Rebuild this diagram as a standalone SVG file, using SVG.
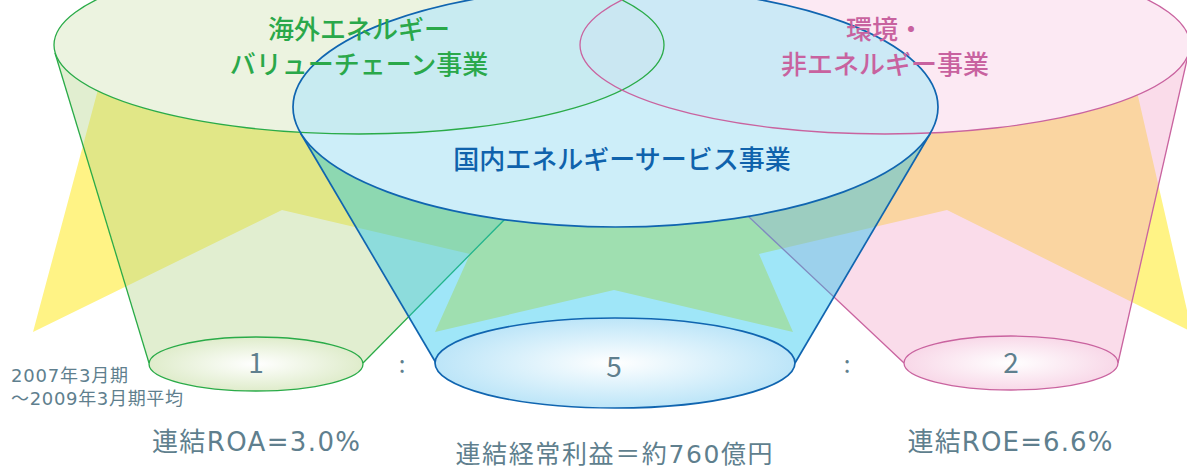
<svg xmlns="http://www.w3.org/2000/svg" width="1187" height="467" viewBox="0 0 1187 467">
<style>
text{font-family:"Noto Sans CJK JP","Noto Sans",sans-serif}
.ttl{font-size:26px;font-weight:500;text-anchor:middle}
.g{fill:#2aa84a}.p{fill:#c8629f}.b{fill:#0f62ac}
.gray{fill:#5f7f8e}
.lat{font-family:"DejaVu Sans","Noto Sans CJK JP",sans-serif}
.num{font-size:28px;text-anchor:middle}
.cap{font-size:26px;text-anchor:middle}
.note{font-size:18px}
.gl{stroke:#2aab48;stroke-width:1.3;fill:none}
.pl{stroke:#c9639f;stroke-width:1.3;fill:none}
.bl{stroke:#1065b0;stroke-width:1.7;fill:none}
</style>
<defs>
<radialGradient id="gg" cx="0.5" cy="0.5" r="0.5"><stop offset="0" stop-color="#ffffff"/><stop offset="1" stop-color="#dfeccb"/></radialGradient>
<radialGradient id="gb" cx="0.5" cy="0.5" r="0.5"><stop offset="0" stop-color="#ffffff"/><stop offset="1" stop-color="#bce5f8"/></radialGradient>
<radialGradient id="gp" cx="0.5" cy="0.5" r="0.5"><stop offset="0" stop-color="#ffffff"/><stop offset="1" stop-color="#f8d8e8"/></radialGradient>
<mask id="mp" maskUnits="userSpaceOnUse" x="-100" y="-300" width="1400" height="800">
<ellipse cx="885" cy="45" rx="305" ry="89" fill="#fff"/>
<ellipse cx="359" cy="45" rx="305" ry="89" fill="#000"/>
</mask>
<mask id="mb" maskUnits="userSpaceOnUse" x="-100" y="-300" width="1400" height="800">
<ellipse cx="615.5" cy="107" rx="322.5" ry="120" fill="#fff"/>
<ellipse cx="359" cy="45" rx="305" ry="89" fill="#000"/>
<ellipse cx="885" cy="45" rx="305" ry="89" fill="#000"/>
</mask>
</defs>
<rect width="1187" height="467" fill="#ffffff"/>
<g id="background-star">
<polygon points="33,332 282,210 470,254 435,332 614,290 793,332 759,254 947,210 1192,332 1116,0 122,0" fill="#fff385"/>
</g>
<g id="node-overseas">
<polygon points="55,53 149,363 363,363 652,70" fill="#b4d489" fill-opacity="0.4"/>
<line x1="55" y1="53" x2="149" y2="363" class="gl"/>
<line x1="363" y1="363" x2="652" y2="70" class="gl"/>
<ellipse cx="256" cy="364" rx="107" ry="27" class="gl" style="fill:url(#gg)"/>
<text x="256" y="373" class="num gray">1</text>
<text x="256" y="451" class="cap gray lat" textLength="208" lengthAdjust="spacing">連結ROA=3.0%</text>
</g>
<g id="node-environment">
<polygon points="594,71 904,363 1118,363 1189,51" fill="#f2a7ca" fill-opacity="0.4"/>
<line x1="594" y1="71" x2="904" y2="363" class="pl"/>
<line x1="1118" y1="363" x2="1189" y2="51" class="pl"/>
<ellipse cx="1011" cy="363" rx="107" ry="27" class="pl" style="fill:url(#gp)"/>
<text x="1011" y="373" class="num gray">2</text>
<text x="1010" y="451" class="cap gray lat" textLength="205" lengthAdjust="spacing">連結ROE=6.6%</text>
</g>
<g id="node-domestic">
<polygon points="300.5,133 436,363 795,363 930.5,133" fill="#17c2ee" fill-opacity="0.41"/>
<line x1="300.5" y1="133" x2="436" y2="363" class="bl"/>
<line x1="795" y1="363" x2="930.5" y2="133" class="bl"/>
<ellipse cx="615" cy="363" rx="180" ry="45" class="bl" style="fill:url(#gb)"/>
<text x="614" y="377" class="num gray">5</text>
<text x="614" y="463" class="cap gray lat" style="font-size:25px" textLength="317" lengthAdjust="spacing">連結経常利益＝約760億円</text>
</g>
<g id="top-faces">
<ellipse cx="359" cy="45" rx="305" ry="89" fill="#ffffff"/>
<ellipse cx="359" cy="45" rx="305" ry="89" fill="#d9e7c1" fill-opacity="0.5"/>
<ellipse cx="885" cy="45" rx="305" ry="89" fill="#ffffff" mask="url(#mp)"/>
<ellipse cx="885" cy="45" rx="305" ry="89" fill="#f9d3e7" fill-opacity="0.5"/>
<ellipse cx="615.5" cy="107" rx="322.5" ry="120" fill="#ffffff" mask="url(#mb)"/>
<ellipse cx="615.5" cy="107" rx="322.5" ry="120" fill="#bce8f7" fill-opacity="0.75"/>
<ellipse cx="359" cy="45" rx="305" ry="89" class="gl"/>
<ellipse cx="885" cy="45" rx="305" ry="89" class="pl"/>
<ellipse cx="615.5" cy="107" rx="322.5" ry="120" class="bl"/>
</g>
<g id="labels">
<text x="359" y="38.5" class="ttl g">海外エネルギー</text>
<text x="359" y="73.5" class="ttl g">バリューチェーン事業</text>
<text x="885" y="38.5" class="ttl p">環境・</text>
<text x="885" y="73.5" class="ttl p">非エネルギー事業</text>
<text x="622" y="168.5" class="ttl b">国内エネルギーサービス事業</text>
<text x="402" y="373" class="num gray" style="font-size:24px">:</text>
<text x="847" y="373" class="num gray" style="font-size:24px">:</text>
<text x="11" y="382" class="note gray lat" textLength="117" lengthAdjust="spacing">2007年3月期</text>
<text x="11" y="405" class="note gray lat" textLength="172" lengthAdjust="spacing">～2009年3月期平均</text>
</g>
</svg>
